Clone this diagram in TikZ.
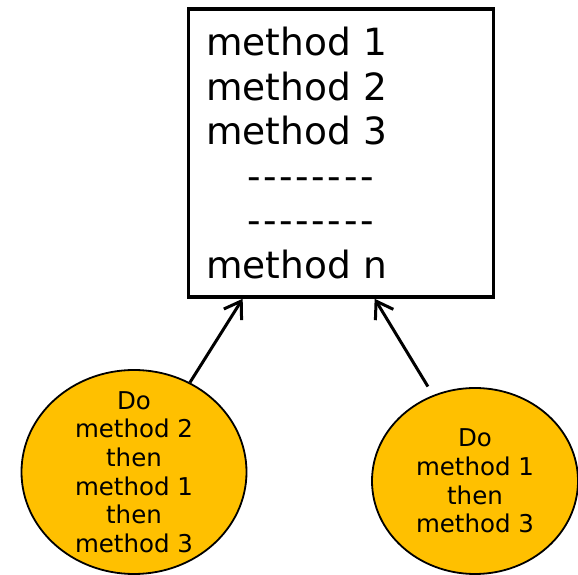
\documentclass[tikz,border=0pt]{standalone}
\usepackage{fontspec}
\setmainfont{DejaVu Sans}
\usetikzlibrary{shapes.geometric,arrows.meta}

\definecolor{gold}{HTML}{FFC000}

\newcommand{\hy}{\makebox[0.43em]{-}}
\newcommand{\dashline}{\hspace*{40pt}\hy\hy\hy\hy\hy\hy\hy\hy}

\begin{document}
\begin{tikzpicture}[x=1pt,y=1pt,
	methbox/.style={draw, line width=3.5pt, text width=270pt, align=left,
		inner xsep=17.5pt, inner ysep=18pt, minimum height=287pt,
		font=\fontsize{37.5}{44.6}\selectfont},
	doellipse/.style={ellipse, draw, line width=1.8pt, fill=gold, inner xsep=0pt,
		inner ysep=-14pt, align=center, font=\fontsize{24.5}{28.7}\selectfont},
	link/.style={line width=3pt, -{Straight Barb[length=16pt,width=21pt]}}]

	% ---- frame

	\useasboundingbox (0,0) rectangle (578,575);

	% ---- class box

	\node[methbox] (meth) at (341,422) {method 1\\method 2\\method 3\\\dashline\\\dashline\\method n};

	% ---- callers

	\node[doellipse, minimum width=225pt, minimum height=204pt] (lft) at (134,103)
		{Do\\method 2\\then\\method 1\\then\\method 3};

	\node[doellipse, minimum width=206pt, minimum height=186pt] (rgt) at (475,94)
		{Do\\method 1\\then\\method 3};

	% ---- arrows

	\draw[link] (lft.58) -- (meth.-124);
	\draw[link, shorten <=10pt] (rgt.116) -- (meth.-77.4);

\end{tikzpicture}
\end{document}
